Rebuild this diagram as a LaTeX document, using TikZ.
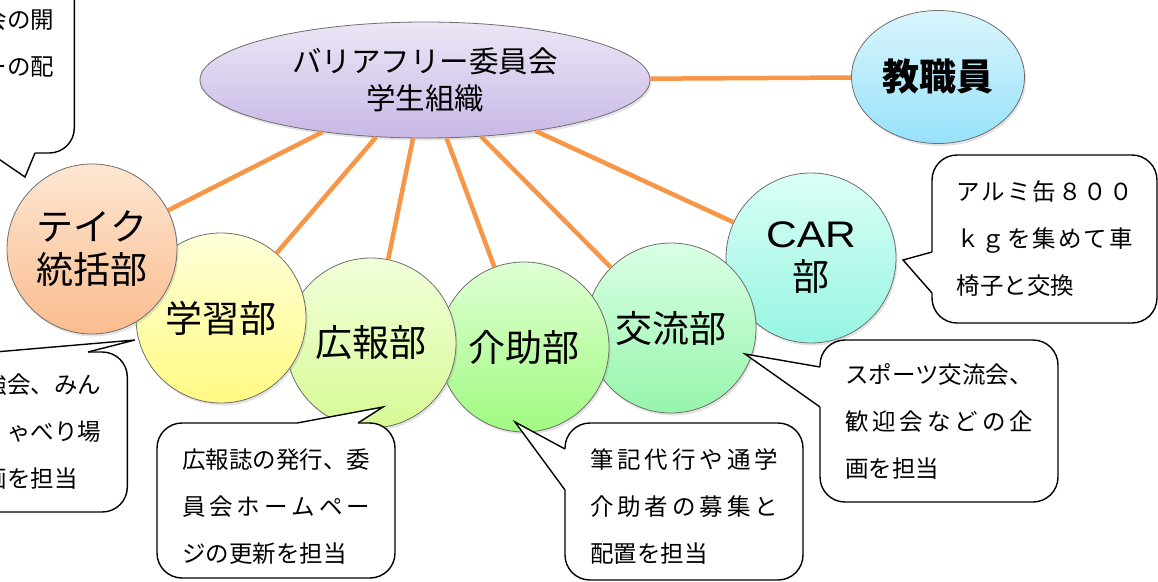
\documentclass[tikz,border=0pt]{standalone}
\usepackage{fontspec}
\setmainfont{Noto Sans CJK JP}
\newfontfamily\latinfont[FakeStretch=1.15]{Liberation Sans}
\usetikzlibrary{shapes.geometric,shadows}

\definecolor{linkorange}{RGB}{247,150,70}
\definecolor{rimgray}{RGB}{110,110,110}
\definecolor{boardtop}{RGB}{236,230,246}
\definecolor{boardbot}{RGB}{200,184,230}
\definecolor{stafftop}{RGB}{218,245,252}
\definecolor{staffbot}{RGB}{150,226,250}
\definecolor{taketop}{RGB}{253,230,210}
\definecolor{takebot}{RGB}{250,188,142}
\definecolor{gakutop}{RGB}{255,255,218}
\definecolor{gakubot}{RGB}{255,250,130}
\definecolor{kouhoutop}{RGB}{242,255,218}
\definecolor{kouhoubot}{RGB}{214,250,148}
\definecolor{kaijotop}{RGB}{222,255,212}
\definecolor{kaijobot}{RGB}{160,250,128}
\definecolor{kouryutop}{RGB}{218,255,228}
\definecolor{kouryubot}{RGB}{150,245,172}
\definecolor{cartop}{RGB}{218,255,246}
\definecolor{carbot}{RGB}{150,245,226}

% spread the characters of one line over a fixed width
\newcommand\spreadline[2]{\leavevmode\hbox to #1{\spreadfirst#2\relax}}
\def\spreadfirst#1{#1\spreadrest}
\def\spreadrest#1{\ifx#1\relax\else\hfil#1\expandafter\spreadrest\fi}

\begin{document}
\begin{tikzpicture}[x=1pt, y=-1pt,
	soft/.style={draw=rimgray, line width=0.8pt, inner sep=0pt,
		drop shadow={opacity=0.22, shadow xshift=1.5pt, shadow yshift=-2.5pt}},
	club/.style={soft, circle, minimum size=170pt, align=center,
		font=\fontsize{37}{43}\selectfont},
	link/.style={linkorange, line width=4.5pt},
	note/.style={draw, line width=1.4pt, rounded corners=25pt, fill=white,
		inner xsep=25pt, inner ysep=0pt, text width=188pt, align=left,
		font=\fontsize{23.5}{47}\selectfont},
	pointer/.style={line width=1.4pt}]
	\useasboundingbox (0,0) rectangle (1158,581);
	\clip (0,0) rectangle (1158,581);

	% top
	\node[soft, ellipse, minimum width=173pt, minimum height=133pt, top color=stafftop, bottom color=staffbot,
		font=\fontsize{37}{43}\selectfont\bfseries] (staff) at (938,77) {教職員};
	\node[soft, ellipse, minimum width=450pt, minimum height=116pt, top color=boardtop, bottom color=boardbot,
		align=center, font=\fontsize{29.5}{37}\selectfont] (board) at (425,80) {バリアフリー委員会\\学生組織};

	% clubs, right to left
	\node[club, top color=cartop, bottom color=carbot] (car) at (811,258) {{\latinfont CAR}\\部};
	\node[club, top color=kouryutop, bottom color=kouryubot] (kouryu) at (671,328) {交流部};
	\node[club, top color=kaijotop, bottom color=kaijobot] (kaijo) at (524,347) {介助部};
	\node[club, top color=kouhoutop, bottom color=kouhoubot] (kouhou) at (371,343) {広報部};
	\node[club, top color=gakutop, bottom color=gakubot] (gakushu) at (221,318) {学習部};
	\node[club, top color=taketop, bottom color=takebot] (take) at (92,249) {テイク\\統括部};

	\foreach \club in {take,gakushu,kouhou,kaijo,kouryu,car,staff}{
	\draw[link] (board) -- (\club);}

	% notes
	\node[note, anchor=east, text width=200pt, inner xsep=20pt, align=right, minimum height=219pt]
		(takenote) at (75,43.5) {会の開\\ーの配};
	\node[note, anchor=east, text width=200pt, inner xsep=26pt, align=right, minimum height=160pt]
		(gakushunote) at (128,432) {強会、みん\\ゃべり場\\画を担当\phantom{一}};
	\node[note, minimum height=155pt, text height=31pt] (kouhounote) at (276,500.5)
		{広報誌の発行、委\\\spreadline{188pt}{員会ホームペー}\\ジの更新を担当};
	\node[note, minimum height=157pt, text height=30pt] (kaijonote) at (684,501.5)
		{\spreadline{188pt}{筆記代行や通学}\\\spreadline{188pt}{介助者の募集と}\\配置を担当};
	\node[note, minimum height=162pt] (kouryunote) at (939,421)
		{スポーツ交流会、\\\spreadline{188pt}{歓迎会などの企}\\画を担当};
	\node[note, text width=176pt, inner xsep=24.5pt, minimum height=168pt] (carnote) at (1044.5,239)
		{\spreadline{176pt}{アルミ缶８００}\\\spreadline{176pt}{ｋｇを集めて車}\\椅子と交換};

	% pointers
	\coordinate (taketip) at (25,177);
	\fill[white] (-10,153) -- (taketip) -- (35,153) -- ++(0,-3) -| (-10,153) -- cycle;
	\draw[pointer] (-10,153) -- (taketip) -- (35,153);

	\coordinate (gakushutip) at (135,340);
	\fill[white] (-5,352) -- (gakushutip) -- (88,352) -- ++(0,3) -| (-5,352) -- cycle;
	\draw[pointer] (-5,352) -- (gakushutip) -- (88,352);

	\coordinate (kouhoutip) at (383,407);
	\fill[white] (297,423) -- (kouhoutip) -- (358,423) -- ++(0,3) -| (297,423) -- cycle;
	\draw[pointer] (297,423) -- (kouhoutip) -- (358,423);

	\coordinate (kaijotip) at (515,422);
	\fill[white] (565,449) -- (kaijotip) -- (565,490) -- ++(3,0) |- (565,449) -- cycle;
	\draw[pointer] (565,449) -- (kaijotip) -- (565,490);

	\coordinate (kouryutip) at (745,354);
	\fill[white] (820,367) -- (kouryutip) -- (820,407) -- ++(3,0) |- (820,367) -- cycle;
	\draw[pointer] (820,367) -- (kouryutip) -- (820,407);

	\coordinate (cartip) at (903,260);
	\fill[white] (932,252) -- (cartip) -- (932,293) -- ++(3,0) |- (932,252) -- cycle;
	\draw[pointer] (932,252) -- (cartip) -- (932,293);
\end{tikzpicture}
\end{document}
